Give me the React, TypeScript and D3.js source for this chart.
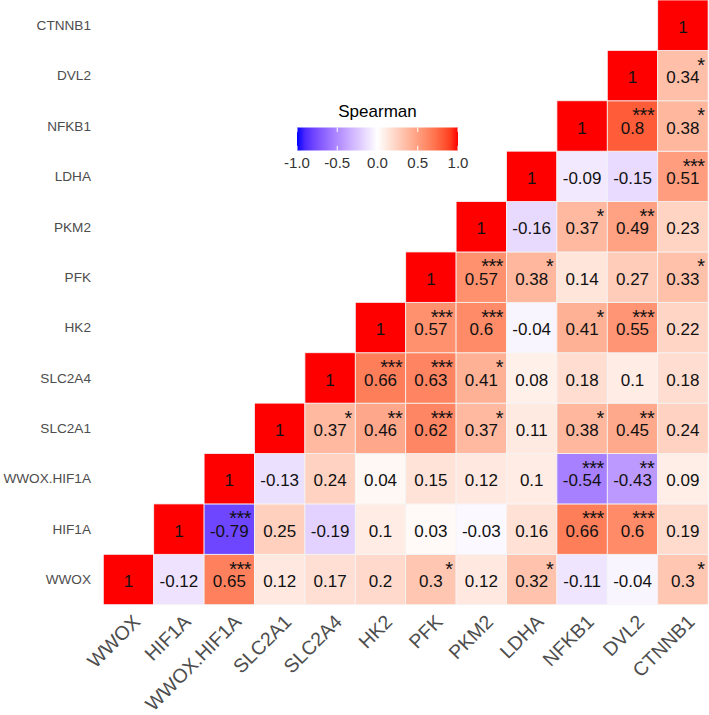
import React from "react";
import * as d3 from "d3";

// Genes in axis order (x left→right, y bottom→top)
const genes = ["WWOX", "HIF1A", "WWOX.HIF1A", "SLC2A1", "SLC2A4", "HK2", "PFK", "PKM2", "LDHA", "NFKB1", "DVL2", "CTNNB1"];

// Correlation values per row (row gene i, columns i..11)
const rowWWOX = [1, -0.12, 0.65, 0.12, 0.17, 0.2, 0.3, 0.12, 0.32, -0.11, -0.04, 0.3];
const rowHIF1A = [1, -0.79, 0.25, -0.19, 0.1, 0.03, -0.03, 0.16, 0.66, 0.6, 0.19];
const rowWWOXHIF1A = [1, -0.13, 0.24, 0.04, 0.15, 0.12, 0.1, -0.54, -0.43, 0.09];
const rowSLC2A1 = [1, 0.37, 0.46, 0.62, 0.37, 0.11, 0.38, 0.45, 0.24];
const rowSLC2A4 = [1, 0.66, 0.63, 0.41, 0.08, 0.18, 0.1, 0.18];
const rowHK2 = [1, 0.57, 0.6, -0.04, 0.41, 0.55, 0.22];
const rowPFK = [1, 0.57, 0.38, 0.14, 0.27, 0.33];
const rowPKM2 = [1, -0.16, 0.37, 0.49, 0.23];
const rowLDHA = [1, -0.09, -0.15, 0.51];
const rowNFKB1 = [1, 0.8, 0.38];
const rowDVL2 = [1, 0.34];
const rowCTNNB1 = [1];

// Significance stars per row
const sigWWOX = ["", "", "***", "", "", "", "*", "", "*", "", "", "*"];
const sigHIF1A = ["", "***", "", "", "", "", "", "", "***", "***", ""];
const sigWWOXHIF1A = ["", "", "", "", "", "", "", "***", "**", ""];
const sigSLC2A1 = ["", "*", "**", "***", "*", "", "*", "**", ""];
const sigSLC2A4 = ["", "***", "***", "*", "", "", "", ""];
const sigHK2 = ["", "***", "***", "", "*", "***", ""];
const sigPFK = ["", "***", "*", "", "", "*"];
const sigPKM2 = ["", "", "*", "**", ""];
const sigLDHA = ["", "", "", "***"];
const sigNFKB1 = ["", "***", "*"];
const sigDVL2 = ["", "*"];
const sigCTNNB1 = [""];

const valueRows = [rowWWOX, rowHIF1A, rowWWOXHIF1A, rowSLC2A1, rowSLC2A4, rowHK2, rowPFK, rowPKM2, rowLDHA, rowNFKB1, rowDVL2, rowCTNNB1];
const sigRows = [sigWWOX, sigHIF1A, sigWWOXHIF1A, sigSLC2A1, sigSLC2A4, sigHK2, sigPFK, sigPKM2, sigLDHA, sigNFKB1, sigDVL2, sigCTNNB1];

const legendTicks = [-1, -0.5, 0, 0.5, 1];
const legendTitle = "Spearman";

const FONT = "'Liberation Sans', Arial, Helvetica, sans-serif";

export default function App() {
  const W = 709;
  const H = 715;
  const x = d3.scaleBand<string>().domain(genes).range([103.3, 708.1]).padding(0);
  const y = d3.scaleBand<string>().domain([...genes].reverse()).range([0, 604.7]).padding(0);
  const color = d3
    .scaleLinear<string>()
    .domain([-1, 0, 1])
    .range(["blue", "white", "red"])
    .interpolate(d3.interpolateLab);

  const cells: { r: string; c: string; v: number; s: string }[] = [];
  valueRows.forEach((row, i) => {
    row.forEach((v, k) => {
      const j = i + k;
      cells.push({ r: genes[i], c: genes[j], v, s: sigRows[i][k] });
    });
  });

  const bw = x.bandwidth();
  const bh = y.bandwidth();

  // legend
  const lx = d3.scaleLinear().domain([-1, 1]).range([297, 458]);
  const barTop = 127.5;
  const barH = 23;
  const stops = d3.range(0, 1.0001, 0.05).map((t) => ({ t, c: color(-1 + 2 * t) }));
  const fmt = (t: number) => d3.format(".1f")(t).replace("\u2212", "-");

  return (
    <svg width={W} height={H} style={{ position: "absolute", left: 0, top: 0, background: "white" }} fontFamily={FONT}>
      <defs>
        <linearGradient id="lg" x1="0" x2="1" y1="0" y2="0">
          {stops.map((s, i) => (
            <stop key={i} offset={`${s.t * 100}%`} stopColor={s.c} />
          ))}
        </linearGradient>
      </defs>
      <rect x={0} y={0} width={W} height={H} fill="white" />
      {cells.map((d, i) => (
        <rect
          key={"r" + i}
          x={x(d.c)}
          y={y(d.r)}
          width={bw}
          height={bh}
          fill={color(d.v)}
          stroke="#f4f4f4"
          strokeWidth={0.8}
        />
      ))}
      {cells.map((d, i) => (
        <text
          key={"t" + i}
          x={(x(d.c) as number) + bw / 2}
          y={(y(d.r) as number) + bh / 2 + 1.5}
          dy="0.36em"
          textAnchor="middle"
          fontSize={17}
          fill="#111"
        >
          {String(d.v)}
        </text>
      ))}
      {cells.map((d, i) =>
        d.s ? (
          <text
            key={"s" + i}
            x={(x(d.c) as number) + bw - 3.5}
            y={(y(d.r) as number) + 21.5}
            textAnchor="end"
            fontSize={20}
            letterSpacing={-0.5}
            fill="#111"
          >
            {d.s}
          </text>
        ) : null
      )}
      {/* y axis labels */}
      {genes.map((g) => (
        <text key={"y" + g} x={91} y={(y(g) as number) + bh / 2} dy="0.35em" textAnchor="end" fontSize={13.6} fill="#4d4d4d">
          {g}
        </text>
      ))}
      {/* x axis labels */}
      {genes.map((g) => (
        <text
          key={"x" + g}
          transform={`translate(${(x(g) as number) + bw / 2 + 2},${612}) rotate(-45)`}
          dy="0.8em"
          textAnchor="end"
          fontSize={19.5}
          fill="#4d4d4d"
        >
          {g}
        </text>
      ))}
      {/* legend */}
      <text x={(lx(-1) + lx(1)) / 2} y={116.5} textAnchor="middle" fontSize={17} fill="#000">
        {legendTitle}
      </text>
      <rect x={lx(-1)} y={barTop} width={lx(1) - lx(-1)} height={barH} fill="url(#lg)" />
      {legendTicks.map((t) => (
        <g key={"lt" + t}>
          <line x1={lx(t)} x2={lx(t)} y1={barTop} y2={barTop + 4.6} stroke="white" strokeWidth={1} />
          <line x1={lx(t)} x2={lx(t)} y1={barTop + barH - 4.6} y2={barTop + barH} stroke="white" strokeWidth={1} />
          <text x={lx(t)} y={168} textAnchor="middle" fontSize={15} fill="#333">
            {fmt(t)}
          </text>
        </g>
      ))}
    </svg>
  );
}
